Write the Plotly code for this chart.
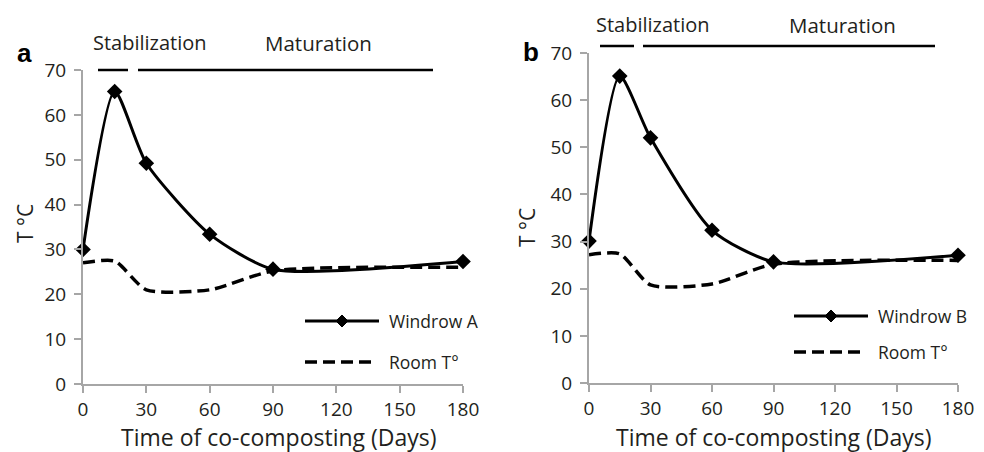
import plotly.graph_objects as go

# ---- data ----
days = [0, 15, 30, 60, 90, 180]
windrow_a = [30.0, 65.2, 49.2, 33.4, 25.6, 27.3]
room_a = [27.0, 27.4, 21.0, 21.0, 25.2, 26.0]
windrow_b = [30.1, 65.1, 52.0, 32.4, 25.7, 27.1]
room_b = [27.2, 27.4, 20.8, 21.0, 25.2, 26.0]
x_ticks = [0, 30, 60, 90, 120, 150, 180]
y_ticks = [0, 10, 20, 30, 40, 50, 60, 70]
panel_labels = ["a", "b"]
legend_a = ["Windrow A", "Room T°"]
legend_b = ["Windrow B", "Room T°"]
phase_labels = ["Stabilization", "Maturation"]

OFF = 8  # page body margin offset
W, H = 984 - OFF, 452 - OFF
FONT = "Open Sans"
TXT = "#231f20"
AX = "#a6a6a6"
SMOOTH = 0.65


def px(x):
    return (x - OFF) / W


def py(y):
    return 1 - (y - OFF) / H


fig = go.Figure()

# Panel a
fig.add_trace(go.Scatter(x=days, y=room_a, mode="lines", xaxis="x", yaxis="y",
                         line=dict(color="black", width=3.5, dash="12px,6px", shape="spline", smoothing=SMOOTH),
                         showlegend=False, cliponaxis=False))
fig.add_trace(go.Scatter(x=days, y=windrow_a, mode="lines+markers", xaxis="x", yaxis="y",
                         line=dict(color="black", width=3, shape="spline", smoothing=SMOOTH),
                         marker=dict(symbol="diamond", size=12, color="black"),
                         showlegend=False, cliponaxis=False))
# Panel b
fig.add_trace(go.Scatter(x=days, y=room_b, mode="lines", xaxis="x2", yaxis="y2",
                         line=dict(color="black", width=3.5, dash="12px,6px", shape="spline", smoothing=SMOOTH),
                         showlegend=False, cliponaxis=False))
fig.add_trace(go.Scatter(x=days, y=windrow_b, mode="lines+markers", xaxis="x2", yaxis="y2",
                         line=dict(color="black", width=3, shape="spline", smoothing=SMOOTH),
                         marker=dict(symbol="diamond", size=12, color="black"),
                         showlegend=False, cliponaxis=False))

xax = dict(range=[0, 180], tickvals=x_ticks, showline=True, linecolor=AX, linewidth=2,
           ticks="outside", ticklen=7, tickcolor=AX, tickwidth=2, showgrid=False,
           zeroline=False, tickfont=dict(family=FONT, size=19, color=TXT),
           automargin=False, fixedrange=True)
yax = dict(range=[0, 70], tickvals=y_ticks, showline=True, linecolor=AX, linewidth=2,
           ticks="outside", ticklen=7, tickcolor=AX, tickwidth=2, showgrid=False,
           zeroline=False, tickfont=dict(family=FONT, size=19, color=TXT),
           ticklabelstandoff=4, automargin=False, fixedrange=True)

fig.update_layout(
    template="none",
    width=W, height=H,
    margin=dict(l=0, r=0, t=0, b=0, pad=0, autoexpand=False),
    paper_bgcolor="white", plot_bgcolor="white",
    xaxis=dict(xax, domain=[px(83), px(463)], anchor="y"),
    yaxis=dict(yax, domain=[py(384), py(70)], anchor="x"),
    xaxis2=dict(xax, domain=[px(589), px(958)], anchor="y2"),
    yaxis2=dict(yax, domain=[py(383), py(53)], anchor="x2"),
    showlegend=False,
)

ann = []
shapes = []


def text(x, y, s, size, xanchor="center", bold=False, angle=0):
    ann.append(dict(x=px(x), y=py(y), xref="paper", yref="paper", text=("<b>%s</b>" % s) if bold else s,
                    showarrow=False, xanchor=xanchor, yanchor="middle", textangle=angle,
                    font=dict(family=FONT if not bold else "Liberation Sans", size=size,
                              color=TXT if not bold else "black")))


def hline(x0, x1, y, width=2.5, dash=None):
    line = dict(color="black", width=width)
    if dash:
        line["dash"] = dash
    shapes.append(dict(type="line", xref="paper", yref="paper", x0=px(x0), x1=px(x1),
                       y0=py(y), y1=py(y), line=line))


def diamond(cx, cy, r=6):
    path = "M %f,%f L %f,%f L %f,%f L %f,%f Z" % (
        px(cx - r), py(cy), px(cx), py(cy - r), px(cx + r), py(cy), px(cx), py(cy + r))
    shapes.append(dict(type="path", xref="paper", yref="paper", path=path,
                       fillcolor="black", line=dict(color="black", width=1)))


# panel labels
text(24, 53, panel_labels[0], 26, bold=True)
text(531, 52, panel_labels[1], 26, bold=True)

# axis titles
text(279, 437, "Time of co-composting (Days)", 23)
text(774, 437, "Time of co-composting (Days)", 23)
text(25, 224, "T °C", 21, angle=-90)
text(527, 228, "T °C", 21, angle=-90)

# phases
text(150, 43, phase_labels[0], 20)
text(318, 43, phase_labels[1], 20.5)
text(653, 25, phase_labels[0], 20)
text(842, 25, phase_labels[1], 20.5)
hline(98, 128, 70)
hline(138, 433, 70)
hline(600, 634, 46)
hline(643, 935, 46)

# legends
hline(305, 379, 321, width=3)
diamond(342, 321)
text(387, 321, legend_a[0], 17.5, xanchor="left")
hline(305, 374, 362, width=3.5, dash="12px,6px")
text(387, 362, legend_a[1], 17.5, xanchor="left")

hline(794, 868, 316, width=3)
diamond(831, 316)
text(876, 316, legend_b[0], 17.5, xanchor="left")
hline(794, 863, 352, width=3.5, dash="12px,6px")
text(876, 352, legend_b[1], 17.5, xanchor="left")

fig.update_layout(annotations=ann, shapes=shapes)
fig.write_html("out.html")
